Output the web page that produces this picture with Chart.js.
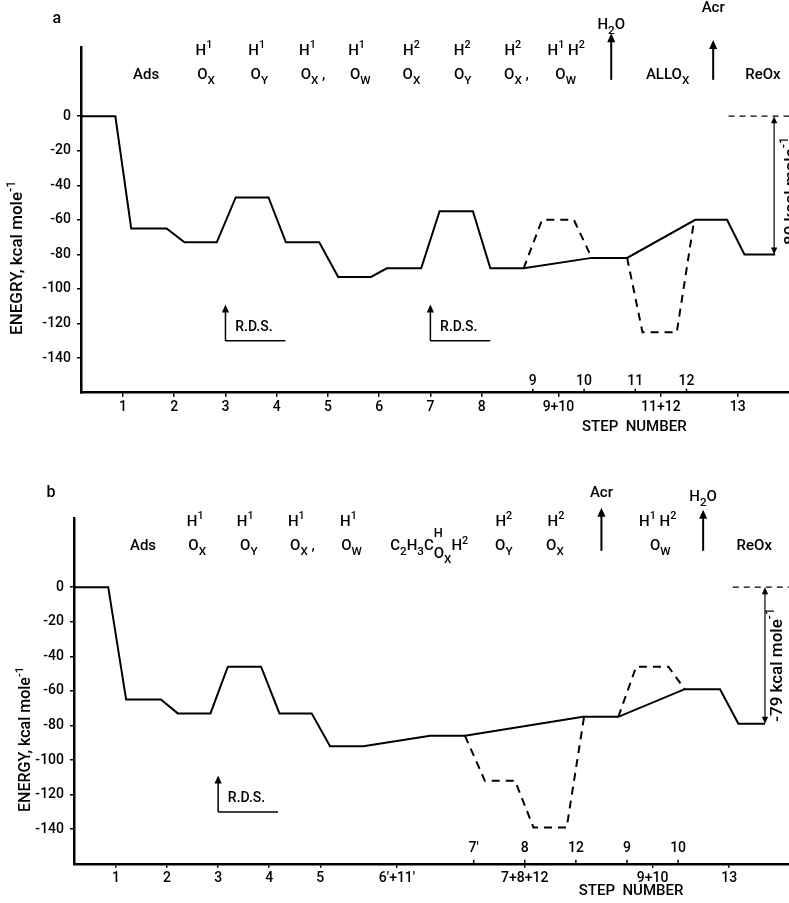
<!DOCTYPE html>
<html>
<head>
<meta charset="utf-8">
<script src="https://cdn.jsdelivr.net/npm/chart.js@4.4.0/dist/chart.umd.min.js"></script>
<style>
    html, body { margin: 0; padding: 0; background: #fff; }
    #wrap { position: relative; width: 789px; height: 903px; }
    canvas { position: absolute; left: 0; }
    #chartA { top: 0; }
    #chartB { top: 445px; }
</style>
</head>
<body>
<div id="wrap">
    <canvas id="chartA" width="789" height="445"></canvas>
    <canvas id="chartB" width="789" height="458"></canvas>
</div>
<script>
// ---------- panel a ----------
const stepsA  = [0.18, 0.85, 1.16, 1.85, 2.2, 2.83, 3.2, 3.84, 4.18, 4.83, 5.2, 5.84, 6.15, 6.82, 7.18, 7.83, 8.17, 8.82, 10.15, 10.84, 12.17, 12.79, 13.13, 13.73];
const energyA = [0, 0, -65, -65, -73, -73, -47, -47, -73, -73, -93, -93, -88, -88, -55, -55, -88, -88, -82, -82, -60, -60, -80, -80];
const altStepsA1  = [8.82, 9.18, 9.8, 10.15];
const altEnergyA1 = [-88, -60, -60, -82];
const altStepsA2  = [10.84, 11.14, 11.81, 12.15];
const altEnergyA2 = [-82, -125, -125, -60];

const tickPosA    = [1, 2, 3, 4, 5, 6, 7, 8, 9.5, 11.5, 13];
const tickLabelsA = ['1', '2', '3', '4', '5', '6', '7', '8', '9+10', '11+12', '13'];
const subPosA     = [9, 10, 11, 12];
const subLabelsA  = ['9', '10', '11', '12'];

const headTextA = ['Ads', 'O_{X}', 'O_{Y}', 'O_{X} ,', 'O_{W}', 'O_{X}', 'O_{Y}', 'O_{X} ,', 'O_{W}', 'ALLO_{X}', 'ReOx'];
const headPosA  = [1.45, 2.62, 3.66, 4.71, 5.63, 6.63, 7.63, 8.68, 9.64, 11.63, 13.49];
const hydTextA  = ['H^{1}', 'H^{1}', 'H^{1}', 'H^{1}', 'H^{2}', 'H^{2}', 'H^{2}', 'H^{1} H^{2}'];
const hydPosA   = [2.58, 3.61, 4.6, 5.56, 6.63, 7.62, 8.61, 9.65];
const productTextA = ['H_{2}O', 'Acr'];
const productPosA  = [10.53, 12.52];
const productTextYA = [52.6, 62.5];
const productTipA  = [48, 44];
const rdsPosA = [3, 7];
const gapA = -80;

// ---------- panel b ----------
const stepsB  = [0.18, 0.85, 1.2, 1.88, 2.21, 2.85, 3.19, 3.84, 4.2, 4.83, 5.19, 5.84, 7.15, 7.83, 10.14, 10.83, 12.13, 12.82, 13.18, 13.7];
const energyB = [0, 0, -65, -65, -73, -73, -46, -46, -73, -73, -92, -92, -86, -86, -75, -75, -59, -59, -79, -79];
const altStepsB1  = [7.83, 8.22, 8.81, 9.17, 9.82, 10.16];
const altEnergyB1 = [-86, -112, -112, -139, -139, -75];
const altStepsB2  = [10.83, 11.18, 11.81, 12.13];
const altEnergyB2 = [-75, -46, -46, -59];

const tickPosB    = [1, 2, 3, 4, 5, 6.5, 9, 11.5, 13];
const tickLabelsB = ['1', '2', '3', '4', '5', "6'+11'", '7+8+12', '9+10', '13'];
const subPosB     = [8, 9, 10, 11, 12];
const subLabelsB  = ["7'", '8', '12', '9', '10'];

const headTextB = ['Ads', 'O_{X}', 'O_{Y}', 'O_{X} ,', 'O_{W}', 'C_{2}H_{3}C`{H}~{O}#{X}H^{2}', 'O_{Y}', 'O_{X}', 'O_{W}', 'ReOx'];
const headPosB  = [1.53, 2.59, 3.6, 4.65, 5.61, 7.13, 8.59, 9.59, 11.65, 13.49];
const hydTextB  = ['H^{1}', 'H^{1}', 'H^{1}', 'H^{1}', 'H^{2}', 'H^{2}', 'H^{1} H^{2}'];
const hydPosB   = [2.55, 3.53, 4.53, 5.55, 8.59, 9.61, 11.6];
const productTextB = ['Acr', 'H_{2}O'];
const productPosB  = [10.5, 12.49];
const productTextYB = [54.5, 52.2];
const productTipB  = [45.9, 44.7];
const rdsPosB = [3];
const gapB = -79;

// shared axis values
const yTicks = [0, -20, -40, -60, -80, -100, -120, -140];

const FONT = 'Roboto, "Liberation Sans", sans-serif';
const WEIGHT = '500';

// text modes: '' normal, ^ sup, _ sub, ` sup without advance, ~ lowered, # lowered sub
const MODES = {
    '':  { k: 1,    dy: 0,     adv: true },
    '^': { k: 0.72, dy: -0.38, adv: true },
    '_': { k: 0.78, dy: 0.38,  adv: true },
    '`': { k: 0.85, dy: -0.85, adv: false },
    '~': { k: 1,    dy: 0.5,   adv: true },
    '#': { k: 0.78, dy: 0.9,   adv: true }
};

function rich(ctx, str, x, y, size, align) {
    const re = /([\^_`~#])\{([^}]*)\}|([^\^_`~#{}]+)/g;
    const parts = [];
    let m;
    while ((m = re.exec(str))) {
        parts.push(m[3] !== undefined ? { mode: '', t: m[3] } : { mode: m[1], t: m[2] });
    }
    let w = 0;
    parts.forEach(pt => {
        const md = MODES[pt.mode];
        ctx.font = `${WEIGHT} ${size * md.k}px ${FONT}`;
        pt.w = ctx.measureText(pt.t).width;
        if (md.adv) w += pt.w;
    });
    let cx = align === 'center' ? x - w / 2 : x;
    ctx.textAlign = 'left';
    ctx.textBaseline = 'middle';
    parts.forEach(pt => {
        const md = MODES[pt.mode];
        ctx.font = `${WEIGHT} ${size * md.k}px ${FONT}`;
        ctx.fillText(pt.t, cx, y + md.dy * size);
        if (md.adv) cx += pt.w;
    });
}

function line(ctx, x0, y0, x1, y1, w) {
    ctx.lineWidth = w;
    ctx.beginPath();
    ctx.moveTo(x0, y0);
    ctx.lineTo(x1, y1);
    ctx.stroke();
}

function head(ctx, x, y, dir, size) {
    // dir -1 points up, +1 points down
    ctx.beginPath();
    ctx.moveTo(x, y);
    ctx.lineTo(x - size * 0.45, y - dir * size);
    ctx.lineTo(x + size * 0.45, y - dir * size);
    ctx.closePath();
    ctx.fill();
}

function figurePlugin(p) {
    return {
        id: 'figure',
        afterDraw(chart) {
            const { ctx, chartArea: area } = chart;
            const xs = chart.scales.x, ys = chart.scales.y;
            const X = v => xs.getPixelForValue(v);
            const Y = v => ys.getPixelForValue(v);
            ctx.save();
            ctx.fillStyle = '#000';
            ctx.strokeStyle = '#000';

            // panel letter
            rich(ctx, p.letter, X(p.letterPos), Y(p.letterY), 16, 'center');

            // header rows
            p.headText.forEach((t, i) => rich(ctx, t, X(p.headPos[i]), Y(23.5), 15, 'center'));
            p.hydText.forEach((t, i) => rich(ctx, t, X(p.hydPos[i]), Y(37.5), 15, 'center'));

            // desorbed products
            p.productText.forEach((t, i) => {
                const px = X(p.productPos[i]);
                line(ctx, px, Y(21), px, Y(p.productTip[i]) + 6, 2);
                head(ctx, px, Y(p.productTip[i]), -1, 9);
                rich(ctx, t, px, Y(p.productTextY[i]), 15, 'center');
            });

            // secondary step labels on the axis
            p.subPos.forEach((v, i) => {
                const px = X(v);
                line(ctx, px, area.bottom, px, area.bottom - 4, 1.5);
                rich(ctx, p.subLabels[i], px, Y(p.subLabelY), 14, 'center');
            });

            // R.D.S. markers
            p.rdsPos.forEach(v => {
                const px = X(v);
                line(ctx, px, Y(-130), px, Y(-109) + 6, 1.5);
                head(ctx, px, Y(-109), -1, 8);
                line(ctx, px, Y(-130), X(v + 1.17), Y(-130), 1.5);
                rich(ctx, 'R.D.S.', X(v + 0.19), Y(-122.5), 14, 'left');
            });

            // overall energy gap
            ctx.setLineDash([6, 5]);
            line(ctx, X(p.gapFrom), Y(0), area.right, Y(0), 1.2);
            ctx.setLineDash([]);
            const gx = X(p.gapPos);
            line(ctx, gx, Y(0) + 4, gx, Y(p.gap) - 4, 1.2);
            head(ctx, gx, Y(0), -1, 7);
            head(ctx, gx, Y(p.gap), 1, 7);
            ctx.save();
            ctx.translate(X(p.gapTextPos), Y(-45));
            ctx.rotate(-Math.PI / 2);
            rich(ctx, p.gapText, 0, 0, 17, 'center');
            ctx.restore();

            // y axis title
            ctx.save();
            ctx.translate(area.left - p.titleOffset, Y(p.titleY));
            ctx.rotate(-Math.PI / 2);
            rich(ctx, p.yTitle, 0, 0, p.titleSize, 'center');
            ctx.restore();

            // x axis title
            rich(ctx, 'STEP  NUMBER', X(p.stepTitlePos), Y(p.stepTitleY), 15, 'center');
            ctx.restore();
        }
    };
}

const toPoints = (xs, ys) => xs.map((x, i) => ({ x: x, y: ys[i] }));

function makePanel(id, p) {
    const ctx = document.getElementById(id).getContext('2d');
    const solid = {
        data: toPoints(p.steps, p.energy),
        showLine: true,
        borderColor: '#000',
        borderWidth: 2,
        pointRadius: 0,
        tension: 0
    };
    const dashed = p.alt.map(a => ({
        data: toPoints(a[0], a[1]),
        showLine: true,
        borderColor: '#000',
        borderWidth: 2,
        borderDash: [8, 6],
        pointRadius: 0,
        tension: 0
    }));
    return new Chart(ctx, {
        type: 'scatter',
        data: { datasets: [solid, ...dashed] },
        options: {
            responsive: false,
            animation: false,
            layout: { padding: { top: p.padTop, left: 0, right: 0, bottom: 0 } },
            plugins: { legend: { display: false }, tooltip: { enabled: false } },
            scales: {
                x: {
                    type: 'linear',
                    min: p.xMin,
                    max: p.xMax,
                    afterBuildTicks: s => { s.ticks = p.tickPos.map(v => ({ value: v })); },
                    afterFit: s => { s.height = p.xAxisH; },
                    ticks: {
                        autoSkip: false,
                        maxRotation: 0,
                        padding: 2,
                        color: '#000',
                        font: { family: FONT, size: 14, weight: WEIGHT },
                        callback: (v, i) => p.tickLabels[i]
                    },
                    grid: { display: true, drawOnChartArea: false, drawTicks: true, tickLength: 4, color: '#000', lineWidth: 1.5 },
                    border: { display: true, color: '#000', width: 2.5 }
                },
                y: {
                    type: 'linear',
                    min: -160,
                    max: 40,
                    afterBuildTicks: s => { s.ticks = yTicks.map(v => ({ value: v })); },
                    afterFit: s => { s.width = p.left; },
                    ticks: {
                        padding: 6,
                        color: '#000',
                        font: { family: FONT, size: 14, weight: WEIGHT },
                        callback: v => String(v)
                    },
                    grid: { display: true, drawOnChartArea: false, drawTicks: true, tickLength: 4, color: '#000', lineWidth: 1.5 },
                    border: { display: true, color: '#000', width: 2.5 }
                }
            }
        },
        plugins: [figurePlugin(p)]
    });
}

document.addEventListener('DOMContentLoaded', () => {
    makePanel('chartA', {
        steps: stepsA, energy: energyA,
        alt: [[altStepsA1, altEnergyA1], [altStepsA2, altEnergyA2]],
        tickPos: tickPosA, tickLabels: tickLabelsA,
        subPos: subPosA, subLabels: subLabelsA, subLabelY: -153.5,
        headText: headTextA, headPos: headPosA,
        hydText: hydTextA, hydPos: hydPosA,
        productText: productTextA, productPos: productPosA,
        productTextY: productTextYA, productTip: productTipA,
        rdsPos: rdsPosA,
        gap: gapA, gapFrom: 12.82, gapPos: 13.71, gapTextPos: 14.05,
        gapText: '-80 kcal mole^{-1}',
        letter: 'a', letterPos: -0.29, letterY: 56,
        yTitle: 'ENEGRY, kcal mole^{-1}', titleY: -82, titleOffset: 63, titleSize: 17,
        stepTitlePos: 10.98, stepTitleY: -180,
        padTop: 47, left: 81, xAxisH: 52.3, xMin: 0.18, xMax: 14.0
    });
    makePanel('chartB', {
        steps: stepsB, energy: energyB,
        alt: [[altStepsB1, altEnergyB1], [altStepsB2, altEnergyB2]],
        tickPos: tickPosB, tickLabels: tickLabelsB,
        subPos: subPosB, subLabels: subLabelsB, subLabelY: -151,
        headText: headTextB, headPos: headPosB,
        hydText: hydTextB, hydPos: hydPosB,
        productText: productTextB, productPos: productPosB,
        productTextY: productTextYB, productTip: productTipB,
        rdsPos: rdsPosB,
        gap: gapB, gapFrom: 13.07, gapPos: 13.7, gapTextPos: 13.95,
        gapText: '-79 kcal mole^{-1}',
        letter: 'b', letterPos: -0.27, letterY: 54.5,
        yTitle: 'ENERGY, kcal mole^{-1}', titleY: -88, titleOffset: 48, titleSize: 16,
        stepTitlePos: 11.08, stepTitleY: -176,
        padTop: 73, left: 74, xAxisH: 39.2, xMin: 0.18, xMax: 14.17
    });
});
</script>
</body>
</html>
